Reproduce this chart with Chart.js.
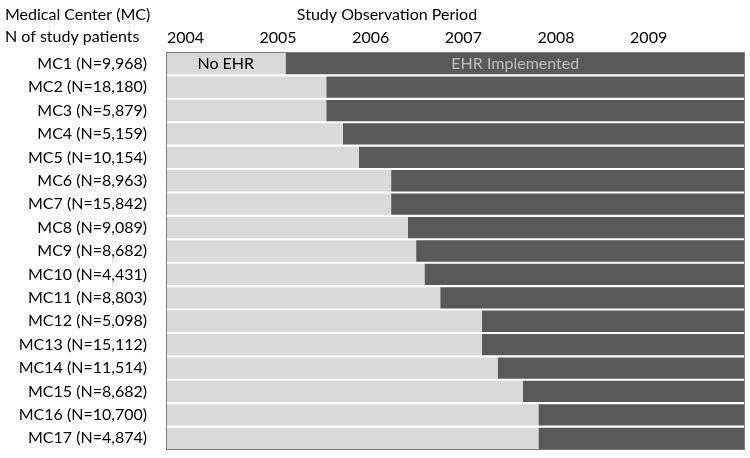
<!DOCTYPE html>
<html>
<head>
<meta charset="utf-8">
<script src="https://cdn.jsdelivr.net/npm/chart.js@4.4.0/dist/chart.umd.min.js"></script>
<style>
  html, body { margin: 0; padding: 0; background: #fff; overflow: hidden; }
  canvas { display: block; }
</style>
</head>
<body>
<canvas id="ehrChart" width="750" height="458"></canvas>
<script>
// ===== Data =====
const centers = ['MC1 (N=9,968)', 'MC2 (N=18,180)', 'MC3 (N=5,879)', 'MC4 (N=5,159)', 'MC5 (N=10,154)',
  'MC6 (N=8,963)', 'MC7 (N=15,842)', 'MC8 (N=9,089)', 'MC9 (N=8,682)', 'MC10 (N=4,431)',
  'MC11 (N=8,803)', 'MC12 (N=5,098)', 'MC13 (N=15,112)', 'MC14 (N=11,514)', 'MC15 (N=8,682)',
  'MC16 (N=10,700)', 'MC17 (N=4,874)'];
// year (decimal) when the EHR went live at each center
const ehrStart = [2005.08, 2005.52, 2005.52, 2005.70, 2005.87, 2006.22, 2006.22, 2006.40, 2006.49,
  2006.58, 2006.75, 2007.20, 2007.20, 2007.37, 2007.64, 2007.81, 2007.81];
const periodStart = 2003.79;
const periodEnd = 2010.04;
const yearTicks = [2004, 2005, 2006, 2007, 2008, 2009];

const noEhrBars = ehrStart.map(s => [periodStart, s]);
const ehrBars = ehrStart.map(s => [s, periodEnd]);

const FONT = 'Lato, "Open Sans", sans-serif';

// ===== Extra text + frame =====
const decorations = {
  id: 'decorations',
  afterDatasetsDraw(chart) {
    const { ctx, chartArea: a, scales: { x, y } } = chart;
    ctx.save();
    ctx.strokeStyle = '#7f7f7f';
    ctx.lineWidth = 1;
    ctx.strokeRect(a.left + 0.5, a.top + 0.5, a.right - a.left - 1, a.bottom - a.top - 1);

    const rowY = y.getPixelForValue(0);
    ctx.font = '16px ' + FONT;
    ctx.textAlign = 'center';
    ctx.textBaseline = 'middle';
    ctx.fillStyle = '#000';
    ctx.fillText('No EHR', (x.getPixelForValue(periodStart) + x.getPixelForValue(ehrStart[0])) / 2, rowY);
    ctx.fillStyle = '#bfbfbf';
    ctx.fillText('EHR Implemented', (x.getPixelForValue(ehrStart[0]) + x.getPixelForValue(periodEnd)) / 2, rowY);

    ctx.fillStyle = '#000';
    ctx.textAlign = 'left';
    ctx.fillText('Medical Center (MC)', 5, 15);
    ctx.fillText('N of study patients', 5, 37);
    ctx.textAlign = 'center';
    ctx.fillText('Study Observation Period', 387, 15);
    ctx.restore();
  }
};

new Chart(document.getElementById('ehrChart'), {
  type: 'bar',
  data: {
    labels: centers,
    datasets: [
      { label: 'No EHR', data: noEhrBars, backgroundColor: '#d9d9d9', grouped: false,
        barPercentage: 1, categoryPercentage: 0.91 },
      { label: 'EHR Implemented', data: ehrBars, backgroundColor: '#595959', grouped: false,
        barPercentage: 1, categoryPercentage: 0.91 },
    ],
  },
  options: {
    indexAxis: 'y',
    responsive: false,
    animation: false,
    layout: { padding: { top: 0, left: 0, right: 5, bottom: 8 } },
    plugins: { legend: { display: false }, tooltip: { enabled: false } },
    scales: {
      x: {
        position: 'top',
        min: periodStart,
        max: periodEnd,
        afterFit: s => { s.height = 52; },
        afterBuildTicks: s => { s.ticks = yearTicks.map(v => ({ value: v })); },
        grid: { display: false },
        border: { display: false },
        ticks: { color: '#000', font: { family: FONT, size: 16 }, padding: -3, maxRotation: 0,
          callback: v => String(v) },
      },
      y: {
        afterFit: s => { s.width = 166; s.paddingTop = 0; s.paddingBottom = 0; },
        grid: { display: false },
        border: { display: false },
        ticks: { color: '#000', font: { family: FONT, size: 16 }, padding: 11 },
      },
    },
  },
  plugins: [decorations],
});
</script>
</body>
</html>
